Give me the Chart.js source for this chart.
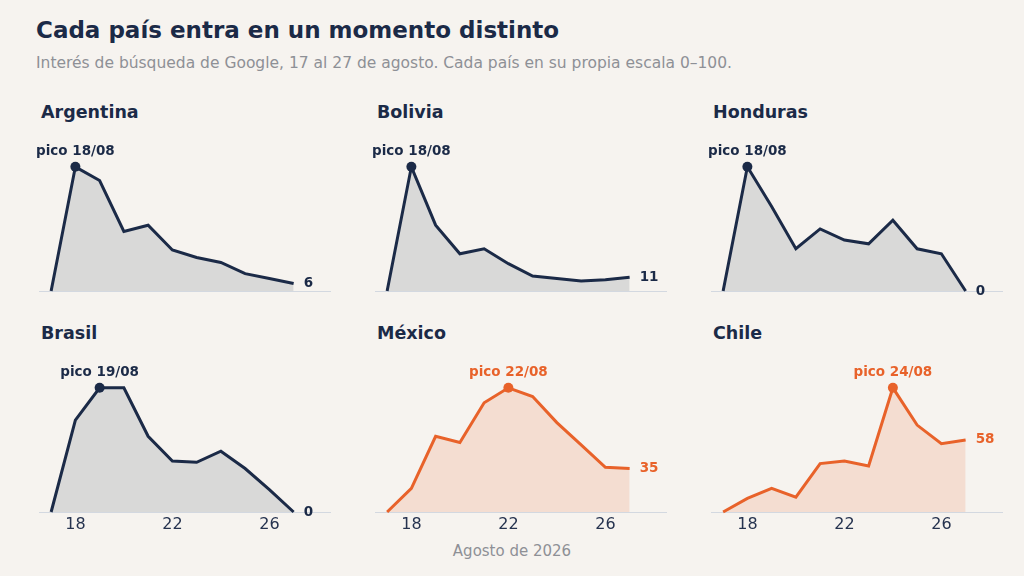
<!DOCTYPE html>
<html lang="es">
<head>
<meta charset="utf-8">
<script src="https://cdn.jsdelivr.net/npm/chart.js@4/dist/chart.umd.min.js"></script>
<style>
    body { margin: 0; background: #f6f3ef; font-family: "DejaVu Sans", sans-serif; }
    #page { position: relative; width: 1024px; height: 576px; overflow: hidden; }
    .txt { position: absolute; white-space: nowrap; }
    #title { left: 36px; top: 16px; font-size: 23px; line-height: 28px; font-weight: bold; color: #1b2a47; }
    #subtitle { left: 36px; top: 53px; font-size: 15.5px; line-height: 20px; color: #8e9096; }
    #xlabel { left: 0; width: 1024px; text-align: center; top: 541px; font-size: 15px; line-height: 20px; color: #8e9096; }
    .panelTitle { font-size: 17.5px; line-height: 20px; font-weight: bold; color: #1b2a47; }
    canvas { position: absolute; }
</style>
</head>
<body>
<div id="page">
    <div id="title" class="txt">Cada país entra en un momento distinto</div>
    <div id="subtitle" class="txt">Interés de búsqueda de Google, 17 al 27 de agosto. Cada país en su propia escala 0–100.</div>
    <div id="xlabel" class="txt">Agosto de 2026</div>
</div>
<script>
// datos (escala 0-100 por país)
const days = [17, 18, 19, 20, 21, 22, 23, 24, 25, 26, 27]
const tickDays = [18, 22, 26]

const countries = ['Argentina', 'Bolivia', 'Honduras', 'Brasil', 'México', 'Chile']
const argentina = [0, 100, 89, 48, 53, 33, 27, 23, 14, 10, 6]
const bolivia   = [0, 100, 53, 30, 34, 22, 12, 10, 8, 9, 11]
const honduras  = [0, 100, 68, 34, 50, 41, 38, 57, 34, 30, 0]
const brasil    = [0, 74, 100, 100, 61, 41, 40, 49, 35, 18, 0]
const mexico    = [0, 19, 61, 56, 88, 100, 93, 72, 54, 36, 35]
const chile     = [0, 11, 19, 12, 39, 41, 37, 100, 70, 55, 58]
const seriesValues = [argentina, bolivia, honduras, brasil, mexico, chile]
const highlighted = ['México', 'Chile']

const NAVY = '#1b2a47'
const ORANGE = '#e8622a'

// geometría de los paneles
const colLeft = [39, 375, 711]
const rowBaseline = [291, 512]
const plotW = 291
const plotH = 149
const padX = 14
const padTop = 14
const axisH = 30

const labelPlugin = {
    id: 'labels',
    afterDatasetsDraw(chart) {
        const ds = chart.data.datasets[0]
        const meta = chart.getDatasetMeta(0)
        const vals = ds.data.map(d => d.y)
        const peak = vals.indexOf(Math.max(...vals))
        const ctx = chart.ctx
        ctx.save()
        ctx.fillStyle = ds.borderColor
        ctx.font = 'bold 13.5px "DejaVu Sans"'

        // etiqueta del pico
        const p = meta.data[peak]
        ctx.textAlign = 'center'
        ctx.textBaseline = 'middle'
        ctx.fillText('pico ' + String(ds.data[peak].x).padStart(2, '0') + '/08', p.x, p.y - 15)

        // último valor
        const last = meta.data[meta.data.length - 1]
        ctx.textAlign = 'left'
        ctx.fillText(String(vals[vals.length - 1]), last.x + 10, last.y)
        ctx.restore()
    }
}

const page = document.getElementById('page')

countries.forEach((name, i) => {
    const col = i % 3
    const row = Math.floor(i / 3)
    const color = highlighted.includes(name) ? ORANGE : NAVY
    const fillColor = highlighted.includes(name) ? 'rgba(232, 98, 42, 0.15)' : '#d9d9d8'
    const values = seriesValues[i]
    const peak = values.indexOf(Math.max(...values))

    const title = document.createElement('div')
    title.className = 'txt panelTitle'
    title.style.left = (colLeft[col] + 2) + 'px'
    title.style.top = (rowBaseline[row] - 189) + 'px'
    title.textContent = name
    page.appendChild(title)

    const canvas = document.createElement('canvas')
    canvas.width = plotW + padX * 2
    canvas.height = padTop + plotH + axisH
    canvas.style.left = (colLeft[col] - padX) + 'px'
    canvas.style.top = (rowBaseline[row] - plotH - padTop) + 'px'
    page.appendChild(canvas)

    new Chart(canvas.getContext('2d'), {
        type: 'line',
        data: {
            datasets: [{
                data: days.map((d, k) => ({ x: d, y: values[k] })),
                borderColor: color,
                backgroundColor: fillColor,
                borderWidth: 3,
                fill: 'origin',
                tension: 0,
                clip: false,
                pointRadius: values.map((v, k) => k === peak ? 5 : 0),
                pointBackgroundColor: color,
                pointBorderColor: color,
                pointBorderWidth: 0
            }]
        },
        options: {
            responsive: false,
            animation: false,
            layout: { padding: { left: padX, right: padX, top: padTop, bottom: 0 } },
            scales: {
                x: {
                    type: 'linear',
                    min: 16.5,
                    max: 28.5,
                    grid: { display: false, drawTicks: false },
                    border: { display: true, color: '#d3d8e0', width: 1 },
                    afterBuildTicks: scale => { scale.ticks = tickDays.map(v => ({ value: v })) },
                    afterFit: scale => { scale.height = axisH },
                    ticks: {
                        display: row === 1,
                        padding: 3,
                        maxRotation: 0,
                        color: '#26334f',
                        font: { family: 'DejaVu Sans', size: 16 }
                    }
                },
                y: { display: false, min: 0, max: 120 }
            },
            plugins: {
                legend: { display: false },
                tooltip: { enabled: false }
            }
        },
        plugins: [labelPlugin]
    })
})
</script>
</body>
</html>
